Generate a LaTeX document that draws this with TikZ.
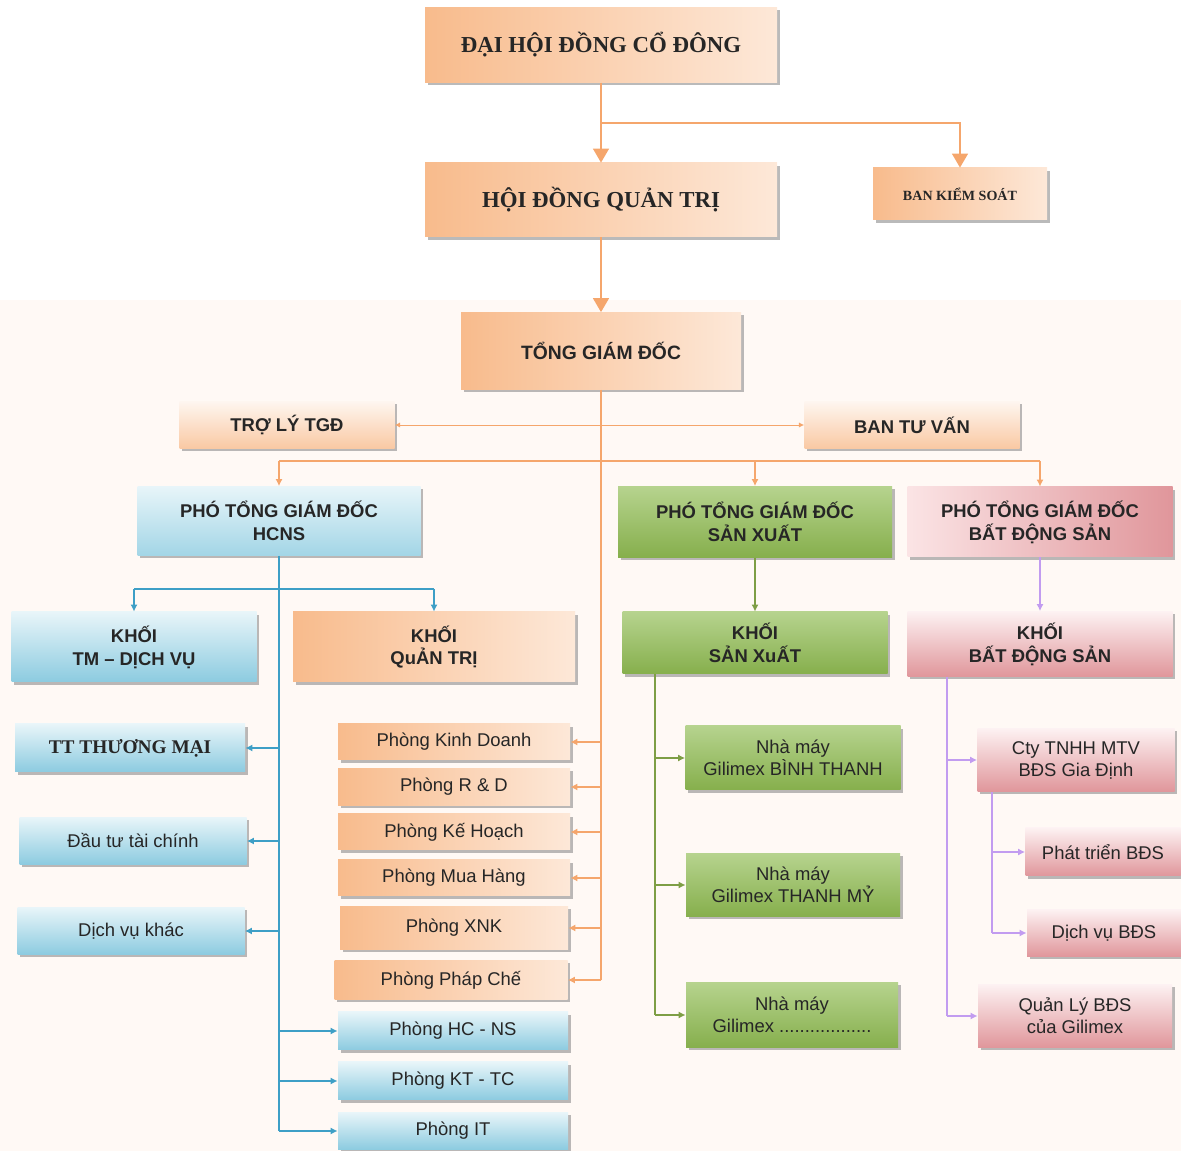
\documentclass[tikz,border=0pt]{standalone}
\usepackage{fontspec}
\setmainfont{Liberation Sans}
\newfontfamily\vnserif{Liberation Serif}
\usetikzlibrary{arrows.meta,shadows}

\definecolor{orD}{HTML}{F8BB8C}
\definecolor{orL}{HTML}{FDE8D8}
\definecolor{blD}{HTML}{8CCBE0}
\definecolor{blL}{HTML}{E8F5F9}
\definecolor{grD}{HTML}{86AF4C}
\definecolor{grL}{HTML}{B6D38E}
\definecolor{pkD}{HTML}{E0969B}
\definecolor{pkL}{HTML}{FBE4E5}
\definecolor{orLine}{HTML}{F5A66C}
\definecolor{blLine}{HTML}{3E9FC6}
\definecolor{grLine}{HTML}{7E9E45}
\definecolor{puLine}{HTML}{C29CF0}
\definecolor{bgTint}{HTML}{FFF9F5}

\begin{document}
\begin{tikzpicture}[x=0.02cm, y=-0.02cm,
    bx/.style 2 args={minimum width=#1*0.02cm, minimum height=#2*0.02cm, inner sep=1pt, align=center, text=black!85},
    shad/.style={drop shadow={shadow xshift=1.5pt, shadow yshift=-1.5pt, fill=black!45, opacity=0.6}},
    orbox/.style={shad, left color=orD, right color=orL},
    orbox2/.style={shad, top color=orL!40, bottom color=orD!80},
    blbox/.style={shad, top color=blL, bottom color=blD!80},
    blbox2/.style={shad, top color=blL, bottom color=blD},
    grbox/.style={shad, top color=grL, bottom color=grD},
    pkbox/.style={shad, left color=pkL, right color=pkD},
    pkbox2/.style={shad, top color=pkL!50, bottom color=pkD},
    ttl/.style={font=\vnserif\bfseries\fontsize{13}{15}\selectfont},
    hd/.style={font=\bfseries\fontsize{10.5}{13}\selectfont},
    tx/.style={font=\fontsize{10.5}{12.5}\selectfont},
    topline/.style={draw=orLine, line width=1.2pt, -{Triangle[length=8pt,width=9pt]}},
    oline/.style={draw=orLine, line width=0.8pt},
    bline/.style={draw=blLine, line width=0.8pt},
    gline/.style={draw=grLine, line width=0.8pt},
    pline/.style={draw=puLine, line width=0.8pt},
    arrowend/.style={-{Latex[length=4pt,width=4pt]}},
    bothends/.style={{Latex[length=3pt,width=3pt]}-{Latex[length=3pt,width=3pt]}}]

    \fill[bgTint] (0,300) rectangle (1181,1151);
    \useasboundingbox (0,0) rectangle (1181,1151);

    % top levels
    \node[orbox, bx={352}{75}, ttl] (dhcd) at (601,45) {ĐẠI HỘI ĐỒNG CỔ ĐÔNG};
    \node[orbox, bx={352}{74}, ttl] (hdqt) at (601,200) {HỘI ĐỒNG QUẢN TRỊ};
    \node[orbox, bx={174}{52}, font=\vnserif\bfseries\fontsize{8}{10}\selectfont] (bks) at (960,194) {BAN KIỂM SOÁT};
    \node[orbox, bx={280}{77}, hd, font=\bfseries\fontsize{11}{13}\selectfont] (tgd) at (601,351) {TỔNG GIÁM ĐỐC};
    \node[orbox2, bx={215}{47}, hd] (tly) at (287,425) {TRỢ LÝ TGĐ};
    \node[orbox2, bx={215}{47}, hd] (btv) at (912,425) {BAN TƯ VẤN};

    % pho tong giam doc
    \node[blbox, bx={283}{69}, hd] (ptHC) at (279,521) {PHÓ TỔNG GIÁM ĐỐC\\HCNS};
    \node[grbox, bx={274}{71}, hd] (ptSX) at (755,522) {PHÓ TỔNG GIÁM ĐỐC\\SẢN XUẤT};
    \node[pkbox, bx={265}{70}, hd] (ptBDS) at (1040,522) {PHÓ TỔNG GIÁM ĐỐC\\BẤT ĐỘNG SẢN};

    % khoi
    \node[blbox2, bx={245}{70}, hd] (kTM) at (134,647) {KHỐI\\TM – DỊCH VỤ};
    \node[orbox, bx={282}{70}, hd] (kQT) at (434,647) {KHỐI\\QuẢN TRỊ};
    \node[grbox, bx={265}{62}, hd] (kSX) at (755,643) {KHỐI\\SẢN XuẤT};
    \node[pkbox2, bx={265}{65}, hd] (kBDS) at (1040,644) {KHỐI\\BẤT ĐỘNG SẢN};

    % khoi TM
    \node[blbox2, bx={230}{48}, font=\vnserif\bfseries\fontsize{11}{13}\selectfont] (ttTM) at (130,748) {TT THƯƠNG MẠI};
    \node[blbox2, bx={227}{47}, tx] (dtTC) at (133,841) {Đầu tư tài chính};
    \node[blbox2, bx={227}{47}, tx] (dvK) at (131,931) {Dịch vụ khác};

    % cac phong
    \node[orbox, bx={232}{36}, tx] (pKD) at (454,742) {Phòng Kinh Doanh};
    \node[orbox, bx={232}{37}, tx] (pRD) at (454,787) {Phòng R \& D};
    \node[orbox, bx={232}{36}, tx] (pKH) at (454,832) {Phòng Kế Hoạch};
    \node[orbox, bx={232}{36}, tx] (pMH) at (454,878) {Phòng Mua Hàng};
    \node[orbox, bx={228}{43}, tx] (pXNK) at (454,928) {Phòng XNK};
    \node[orbox, bx={233}{39}, tx] (pPC) at (451,980) {Phòng Pháp Chế};
    \node[blbox2, bx={230}{38}, tx] (pHC) at (453,1031) {Phòng HC - NS};
    \node[blbox2, bx={230}{38}, tx] (pKT) at (453,1081) {Phòng KT - TC};
    \node[blbox2, bx={230}{37}, tx] (pIT) at (453,1131) {Phòng IT};

    % nha may
    \node[grbox, bx={215}{64}, tx] (nm1) at (793,758) {Nhà máy\\Gilimex BÌNH THANH};
    \node[grbox, bx={214}{63}, tx] (nm2) at (793,885) {Nhà máy\\Gilimex THANH MỶ};
    \node[grbox, bx={212}{65}, tx] (nm3) at (792,1015) {Nhà máy\\Gilimex ..................};

    % bat dong san
    \node[pkbox2, bx={197}{63}, tx] (cty) at (1076,760) {Cty TNHH MTV\\BĐS Gia Định};
    \node[pkbox2, bx={155}{48}, tx] (ptBDSsub) at (1103,852) {Phát triển BĐS};
    \node[pkbox2, bx={154}{47}, tx] (dvBDS) at (1104,933) {Dịch vụ BĐS};
    \node[pkbox2, bx={194}{63}, tx] (qlBDS) at (1075,1016) {Quản Lý BĐS\\của Gilimex};

    % connectors, top
    \coordinate (bksTurn) at (601,123);
    \draw[topline] (dhcd.south) -- (hdqt.north);
    \draw[topline] (bksTurn) -| (bks.north);
    \draw[topline] (hdqt.south) -- (tgd.north);

    % tong giam doc trunk
    \coordinate (bar) at (0,461);
    \draw[oline] (tgd.south) -- (tgd.south |- pPC.east);
    \draw[oline, line width=0.5pt, bothends] (tly.east) -- (btv.west);
    \draw[oline] (ptHC.north |- bar) -- (ptBDS.north |- bar);
    \draw[oline, arrowend] (ptHC.north |- bar) -- (ptHC.north);
    \draw[oline, arrowend] (ptSX.north |- bar) -- (ptSX.north);
    \draw[oline, arrowend] (ptBDS.north |- bar) -- (ptBDS.north);
    \draw[oline, arrowend] (tgd.south |- pKD.east) -- (pKD.east);
    \draw[oline, arrowend] (tgd.south |- pRD.east) -- (pRD.east);
    \draw[oline, arrowend] (tgd.south |- pKH.east) -- (pKH.east);
    \draw[oline, arrowend] (tgd.south |- pMH.east) -- (pMH.east);
    \draw[oline, arrowend] (tgd.south |- pXNK.east) -- (pXNK.east);
    \draw[oline, arrowend] (tgd.south |- pPC.east) -- (pPC.east);

    % HCNS
    \coordinate (hcBar) at (0,589);
    \draw[bline] (ptHC.south) -- (ptHC.south |- pIT.west);
    \draw[bline] (kTM.north |- hcBar) -- (kQT.north |- hcBar);
    \draw[bline, arrowend] (kTM.north |- hcBar) -- (kTM.north);
    \draw[bline, arrowend] (kQT.north |- hcBar) -- (kQT.north);
    \draw[bline, arrowend] (ptHC.south |- ttTM.east) -- (ttTM.east);
    \draw[bline, arrowend] (ptHC.south |- dtTC.east) -- (dtTC.east);
    \draw[bline, arrowend] (ptHC.south |- dvK.east) -- (dvK.east);
    \draw[bline, arrowend] (ptHC.south |- pHC.west) -- (pHC.west);
    \draw[bline, arrowend] (ptHC.south |- pKT.west) -- (pKT.west);
    \draw[bline, arrowend] (ptHC.south |- pIT.west) -- (pIT.west);

    % san xuat
    \coordinate (sxTrunk) at (655,0);
    \draw[gline, arrowend] (ptSX) -- (kSX);
    \draw[gline] (kSX.south -| sxTrunk) -- (nm3.west -| sxTrunk);
    \draw[gline, arrowend] (nm1.west -| sxTrunk) -- (nm1.west);
    \draw[gline, arrowend] (nm2.west -| sxTrunk) -- (nm2.west);
    \draw[gline, arrowend] (nm3.west -| sxTrunk) -- (nm3.west);

    % bat dong san
    \coordinate (bdsTrunk) at (947,0);
    \coordinate (ctyTrunk) at (992,0);
    \draw[pline, arrowend] (ptBDS) -- (kBDS);
    \draw[pline] (kBDS.south -| bdsTrunk) -- (qlBDS.west -| bdsTrunk);
    \draw[pline, arrowend] (cty.west -| bdsTrunk) -- (cty.west);
    \draw[pline, arrowend] (qlBDS.west -| bdsTrunk) -- (qlBDS.west);
    \draw[pline] (cty.south -| ctyTrunk) -- (dvBDS.west -| ctyTrunk);
    \draw[pline, arrowend] (ptBDSsub.west -| ctyTrunk) -- (ptBDSsub.west);
    \draw[pline, arrowend] (dvBDS.west -| ctyTrunk) -- (dvBDS.west);
\end{tikzpicture}
\end{document}
